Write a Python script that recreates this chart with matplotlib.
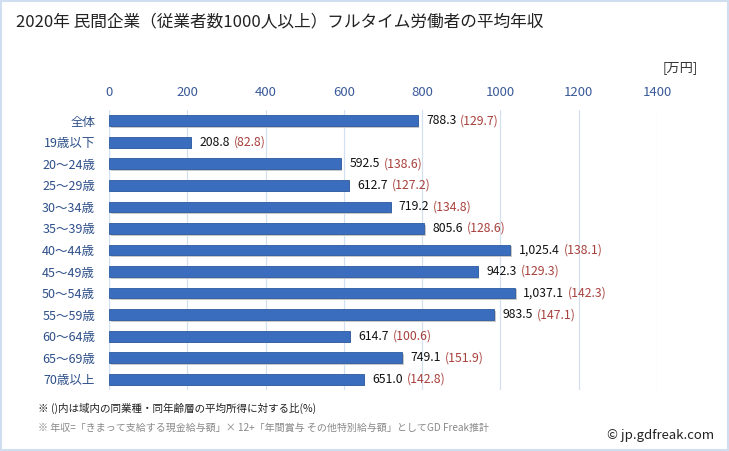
import numpy as np
import matplotlib
matplotlib.use('Agg')
import matplotlib.pyplot as plt
from matplotlib.patches import Rectangle

plt.rcParams['font.family'] = ['Noto Sans CJK JP', 'DejaVu Sans']

categories = ['全体', '19歳以下', '20〜24歳', '25〜29歳', '30〜34歳', '35〜39歳', '40〜44歳',
              '45〜49歳', '50〜54歳', '55〜59歳', '60〜64歳', '65〜69歳', '70歳以上']
income = [788.3, 208.8, 592.5, 612.7, 719.2, 805.6, 1025.4, 942.3, 1037.1, 983.5, 614.7, 749.1, 651.0]
ratio = [129.7, 82.8, 138.6, 127.2, 134.8, 128.6, 138.1, 129.3, 142.3, 147.1, 100.6, 151.9, 142.8]
xticks = [0, 200, 400, 600, 800, 1000, 1200, 1400]

fig = plt.figure(figsize=(7.29, 4.51), dpi=100)
ax = fig.add_axes([109/729, 1 - 390/451, (657 - 109)/729, 280/451])

y = np.arange(len(categories))
# shadow then bar
ax.barh(y + 0.08, income, height=0.5, left=4, color='#c8c8c8', zorder=2)
ax.barh(y, income, height=0.5, color='#3a6dbd', edgecolor='#2d5a9e', linewidth=0.6, zorder=3)

ax.set_xlim(0, 1400)
ax.set_ylim(len(categories) - 0.5, -0.5)
ax.set_xticks(xticks)
ax.xaxis.tick_top()
ax.tick_params(axis='x', length=0, labelsize=9.5, labelcolor='#3a5a99', pad=8)
ax.set_yticks(y)
ax.set_yticklabels(categories)
ax.tick_params(axis='y', length=0, labelsize=9, labelcolor='#2e4f8a', pad=10)
ax.grid(axis='x', color='#d3e0f0', linewidth=0.9, zorder=0)
for s in ax.spines.values():
    s.set_visible(False)
ax.axvline(0, color='#d3e0f0', linewidth=0.9, zorder=1)

fig.canvas.draw()
renderer = fig.canvas.get_renderer()
for i, (v, r) in enumerate(zip(income, ratio)):
    t = ax.annotate('{:,.1f}'.format(v), xy=(v, i), xytext=(6, 0), textcoords='offset points',
                    va='center', ha='left', fontsize=8.8, color='#111111', zorder=5)
    bb = t.get_window_extent(renderer)
    fig.text(bb.x1 / fig.bbox.width + 4/729, bb.y0 / fig.bbox.height, '({:.1f})'.format(r),
             fontsize=8.8, color='#a8403c', va='bottom', ha='left')

fig.text(16/729, 1 - 22/451, '2020年 民間企業（従業者数1000人以上）フルタイム労働者の平均年収',
         fontsize=12, color='#222222', va='center', ha='left')
fig.text(698/729, 1 - 68/451, '[万円]', fontsize=9.5, color='#333333', va='center', ha='right')
fig.text(38/729, 1 - 408/451, '※ ()内は域内の同業種・同年齢層の平均所得に対する比(%)',
         fontsize=7.6, color='#222222', va='center', ha='left')
fig.text(38/729, 1 - 428/451, '※ 年収=「きまって支給する現金給与額」× 12+「年間賞与 その他特別給与額」としてGD Freak推計',
         fontsize=7.2, color='#888888', va='center', ha='left')
fig.text(714/729, 1 - 436/451, '© jp.gdfreak.com', fontsize=9.5, color='#222222', va='center', ha='right')

fig.patches.append(Rectangle((0.002, 0.003), 0.996, 0.994, transform=fig.transFigure,
                             fill=False, edgecolor='#cfdff0', linewidth=1.5))

fig.savefig('out.png', dpi=100)
